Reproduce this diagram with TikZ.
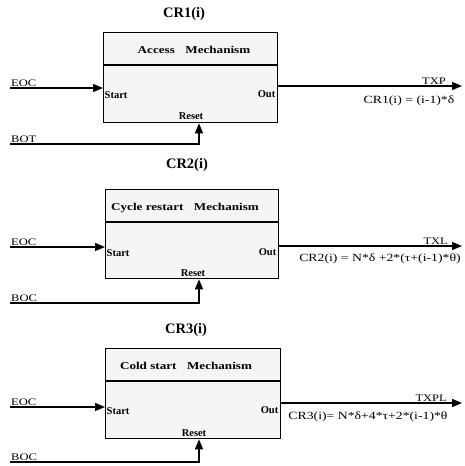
\documentclass[tikz,border=0pt]{standalone}
\usepackage{fontspec}
\setmainfont{Liberation Serif}
\newfontfamily\wideserif[FakeStretch=1.25]{Liberation Serif}
\usetikzlibrary{arrows.meta}
\begin{document}
\begin{tikzpicture}[x=1pt,y=-1pt,
 box/.style={draw,line width=1.3pt,fill=black!4,inner sep=0,anchor=north west},
 wire/.style={line width=1.3pt},
 arr/.style={wire,-{Triangle[length=10pt,width=8pt]}},
 title/.style={font=\fontsize{14.5}{16}\bfseries\selectfont},
 mech/.style={font=\wideserif\fontsize{10.5}{12}\bfseries\selectfont},
 port/.style={font=\fontsize{10.5}{12}\bfseries\selectfont, inner sep=1.5pt},
 sig/.style={font=\wideserif\fontsize{10}{12}\selectfont, inner sep=1pt, anchor=south west},
 formula/.style={font=\wideserif\fontsize{11}{12}\selectfont, inner sep=0}]
\useasboundingbox (0,0) rectangle (464,466);

% ---------- block 1 ----------
\node[title] (t1) at (184,14) {CR1(i)};
\node[box, minimum width=174pt, minimum height=90pt] (box1) at (103,32) {};
\coordinate (d1) at (0,65);
\draw[wire] (box1.west |- d1) -- (box1.east |- d1);
\node[mech] (m1) at (194,50) {Access\hspace{1em}Mechanism};
\node[port, anchor=west] (s1) at (103,95) {Start};
\node[port, anchor=east] (out1) at (277,94) {Out};
\node[port] (rs1) at (191,116) {Reset};
\coordinate (e1) at (10,88);
\draw[arr] (e1) -- (e1 -| box1.west);
\node[sig] (le1) at (e1) {EOC};
\coordinate (o1) at (462,86);
\draw[arr] (o1 -| box1.east) -- (o1);
\node[sig, anchor=south east] (lo1) at (447,86) {TXP};
\node[formula] (f1) at (409,101) {CR1(i) = (i-1)*δ};
\coordinate (b1) at (10,144);
\coordinate (rx1) at (199,0);
\draw[arr] (b1) -- (b1 -| rx1) -- (rx1 |- box1.south);
\node[sig] (lb1) at (b1) {BOT};

% ---------- block 2 ----------
\node[title] (t2) at (187,165) {CR2(i)};
\node[box, minimum width=173pt, minimum height=89pt] (box2) at (105,189) {};
\coordinate (d2) at (0,222);
\draw[wire] (box2.west |- d2) -- (box2.east |- d2);
\node[mech] (m2) at (185,208) {Cycle restart\hspace{1em}Mechanism};
\node[port, anchor=west] (s2) at (105,253) {Start};
\node[port, anchor=east] (out2) at (278,252) {Out};
\node[port] (rs2) at (193,273) {Reset};
\coordinate (e2) at (10,247);
\draw[arr] (e2) -- (e2 -| box2.west);
\node[sig] (le2) at (e2) {EOC};
\coordinate (o2) at (462,246);
\draw[arr] (o2 -| box2.east) -- (o2);
\node[sig, anchor=south east] (lo2) at (449,246) {TXL};
\node[formula] (f2) at (380,259) {CR2(i) = N*δ +2*(τ+(i-1)*θ)};
\coordinate (b2) at (10,303);
\coordinate (rx2) at (199,0);
\draw[arr] (b2) -- (b2 -| rx2) -- (rx2 |- box2.south);
\node[sig] (lb2) at (b2) {BOC};

% ---------- block 3 ----------
\node[title] (t3) at (186,330) {CR3(i)};
\node[box, minimum width=175pt, minimum height=90pt] (box3) at (105,348) {};
\coordinate (d3) at (0,381);
\draw[wire] (box3.west |- d3) -- (box3.east |- d3);
\node[mech] (m3) at (186,366) {Cold start\hspace{1em}Mechanism};
\node[port, anchor=west] (s3) at (105,411) {Start};
\node[port, anchor=east] (out3) at (280,410) {Out};
\node[port] (rs3) at (194,433) {Reset};
\coordinate (e3) at (10,407);
\draw[arr] (e3) -- (e3 -| box3.west);
\node[sig] (le3) at (e3) {EOC};
\coordinate (o3) at (462,403);
\draw[arr] (o3 -| box3.east) -- (o3);
\node[sig, anchor=south east] (lo3) at (448,403) {TXPL};
\node[formula] (f3) at (368,417) {CR3(i)= N*δ+4*τ+2*(i-1)*θ};
\coordinate (b3) at (10,462);
\coordinate (rx3) at (199,0);
\draw[arr] (b3) -- (b3 -| rx3) -- (rx3 |- box3.south);
\node[sig] (lb3) at (b3) {BOC};
\end{tikzpicture}
\end{document}
